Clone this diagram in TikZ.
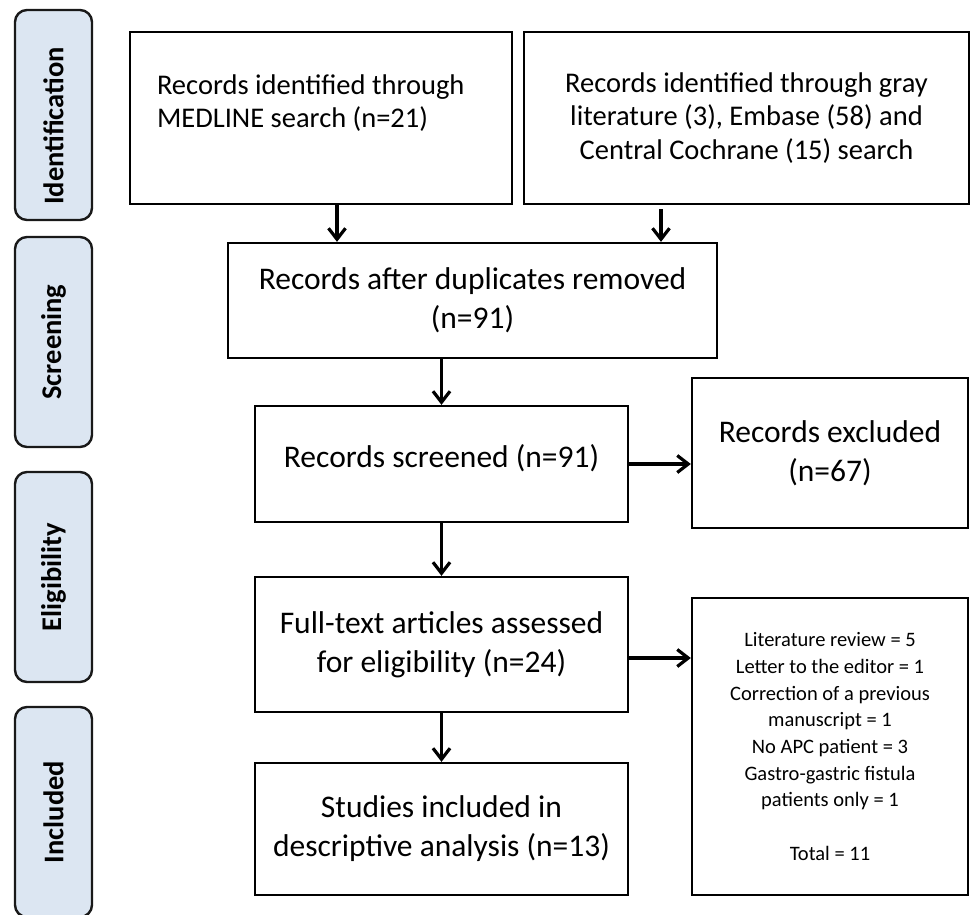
\documentclass[tikz,border=0pt]{standalone}
\usepackage{fontspec}
\setmainfont{Carlito}
\usetikzlibrary{arrows.meta}

\definecolor{stagefill}{HTML}{DCE6F2}

\tikzset{
  stage/.style={draw=black!90, line width=2.4pt, fill=stagefill, rounded corners=12pt,
    minimum width=210pt, minimum height=77pt, inner sep=0pt, rotate=90,
    font=\bfseries\fontsize{28.5}{32}\selectfont},
  box/.style={draw, line width=2.3pt, inner sep=0pt, align=center},
  big/.style={font=\fontsize{31.5}{39}\selectfont},
  mid/.style={font=\fontsize{28.5}{33.5}\selectfont},
  small/.style={font=\fontsize{20.5}{26.7}\selectfont},
  arr/.style={line width=3.2pt, -{Straight Barb[length=11pt,width=17pt]}}
}

\begin{document}
\begin{tikzpicture}[x=1pt, y=-1pt]
  \useasboundingbox (0,0) rectangle (970,914);

  % Stage labels on the left
  \foreach \name/\y/\off in {Identification/115/22, Screening/342/0, Eligibility/577/0, Included/812/0}
  \node[stage] (st-\name) at (53.5,\y) {\name\hspace*{\off pt}};

  % Identification
  \node[box, mid, align=flush left, text width=328pt, inner xsep=27pt, minimum height=172pt]
    (medline) at (321,118) {Records identified through\\MEDLINE search (n=21)\\ ~};
  \node[box, mid, minimum width=445pt, minimum height=172pt]
    (grey) at (746.5,118) {Records identified through gray\\literature (3), Embase (58) and\\Central Cochrane (15) search};

  % Screening
  \node[box, big, minimum width=489pt, minimum height=115pt]
    (dupl) at (472.5,300.5) {Records after duplicates removed\\(n=91)};
  \node[box, big, minimum width=373pt, minimum height=116pt, text depth=16pt]
    (screened) at (441.5,464) {Records screened (n=91)};
  \node[box, big, minimum width=276pt, minimum height=150pt]
    (excluded) at (830,453) {Records excluded\\(n=67)};

  % Eligibility
  \node[box, big, minimum width=373pt, minimum height=135pt]
    (fulltext) at (441.5,644.5) {Full-text articles assessed\\for eligibility (n=24)};
  \node[box, small, minimum width=276pt, minimum height=297pt]
    (reasons) at (830,746.5) {Literature review = 5\\Letter to the editor = 1\\Correction of a previous\\manuscript = 1\\No APC patient = 3\\Gastro-gastric fistula\\patients only = 1\\[26.7pt]Total = 11};

  % Included
  \node[box, big, minimum width=373pt, minimum height=132pt]
    (included) at (441.5,829) {Studies included in\\descriptive analysis (n=13)};

  % Connectors
  \draw[arr] ([xshift=16pt]medline.south) -- ([xshift=16pt]medline.south |- dupl.north);
  \draw[arr] ([xshift=-85.5pt,yshift=-4pt]grey.south) -- ([xshift=-85.5pt]grey.south |- dupl.north);
  \draw[arr] (screened.north |- dupl.south) -- (screened.north);
  \draw[arr] (screened.east) -- (screened.east -| excluded.west);
  \draw[arr] (screened.south) -- (fulltext.north);
  \draw[arr] ([yshift=-13.5pt]fulltext.east) -- ([yshift=-13.5pt]fulltext.east -| reasons.west);
  \draw[arr] (fulltext.south) -- (included.north);
\end{tikzpicture}
\end{document}
